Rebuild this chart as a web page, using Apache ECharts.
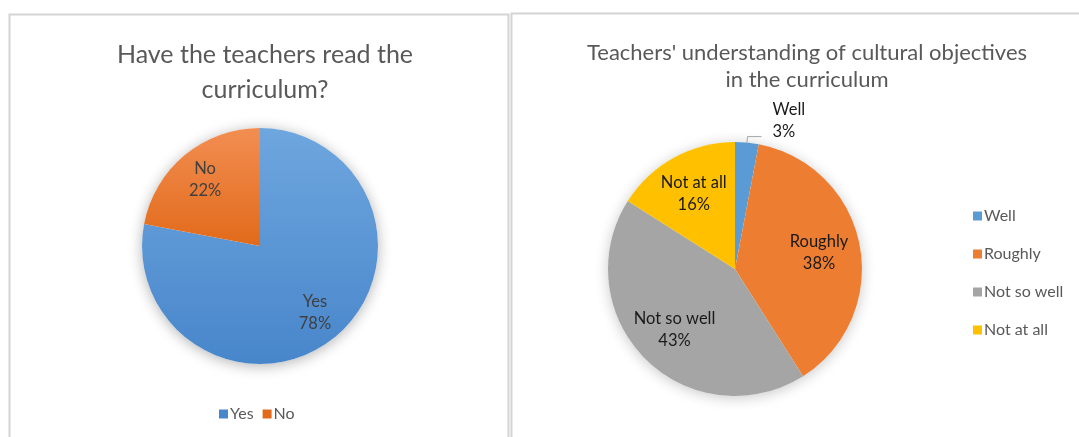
<!DOCTYPE html>
<html>
<head>
<meta charset="utf-8">
<script src="https://cdn.jsdelivr.net/npm/echarts@6/dist/echarts.min.js"></script>
<style>
  html, body { margin: 0; padding: 0; background: #ffffff; }
  #chart { width: 1079px; height: 437px; }
</style>
</head>
<body>
<div id="chart"></div>
<script>
// Survey results: have teachers read the curriculum
const readCategories = ['Yes', 'No'];
const readShares = [78, 22];

// Survey results: understanding of cultural objectives
const understandingCategories = ['Well', 'Roughly', 'Not so well', 'Not at all'];
const understandingShares = [3, 38, 43, 16];

const readColors = [
  ['#6ea6de', '#4886cb'],
  ['#f28e52', '#e26a1a']
];
const understandingColors = ['#5b9bd5', '#ed7d31', '#a5a5a5', '#ffc000'];

const FONT = 'Lato, "Open Sans", sans-serif';
const SMALL_SLICE = 5; // slices below this share get an outside label

const chart = echarts.init(document.getElementById('chart'), null, { renderer: 'canvas' });

function sum(arr) { return arr.reduce((a, b) => a + b, 0); }

const leftCenter = [260, 246];
const leftRadius = 118;
const rightCenter = [735, 269];
const rightRadius = 127;

// Shared label text formatting: name on first line, percent below
const labelFormatter = p => p.name + '\n' + p.value + '%';

const option = {
  animation: false,
  backgroundColor: '#ffffff',
  title: [
    {
      text: 'Have the teachers read the\ncurriculum?',
      left: 260, top: 32, textAlign: 'center',
      textStyle: { fontFamily: FONT, fontSize: 25, fontWeight: 'normal', color: '#595959', lineHeight: 35 }
    },
    {
      text: "Teachers' understanding of cultural objectives\nin the curriculum",
      left: 802, top: 34, textAlign: 'center',
      textStyle: { fontFamily: FONT, fontSize: 22, fontWeight: 'normal', color: '#595959', lineHeight: 27 }
    }
  ],
  legend: [
    {
      data: readCategories.map((n, i) => ({ name: n, itemStyle: { color: readColors[i][1] } })),
      left: 214, top: 401, orient: 'horizontal',
      icon: 'rect', itemWidth: 9, itemHeight: 9, itemGap: 9,
      textStyle: { fontFamily: FONT, fontSize: 16, color: '#595959', padding: [0, 0, 0, -3] },
      selectedMode: false
    },
    {
      data: understandingCategories,
      left: 968, top: 203, orient: 'vertical',
      icon: 'rect', itemWidth: 9, itemHeight: 9, itemGap: 22,
      textStyle: { fontFamily: FONT, fontSize: 16, color: '#595959', padding: [0, 0, 0, -3] },
      selectedMode: false
    }
  ],
  graphic: [
    {
      type: 'rect', silent: true, z: -10,
      shape: { x: 9.5, y: 14.5, width: 499, height: 440 },
      style: { fill: '#ffffff', stroke: '#d4d4d4', lineWidth: 2 }
    },
    {
      type: 'rect', silent: true, z: -10,
      shape: { x: 511.5, y: 13.5, width: 600, height: 440 },
      style: { fill: '#ffffff', stroke: '#d4d4d4', lineWidth: 2 }
    }
  ],
  series: [
    // soft drop shadow under the left pie
    {
      type: 'pie', name: 'readBase', silent: true, z: 1,
      center: leftCenter, radius: leftRadius,
      label: { show: false }, labelLine: { show: false },
      itemStyle: { color: '#ffffff', shadowBlur: 14, shadowOffsetY: 2, shadowColor: 'rgba(0,0,0,0.3)' },
      data: [{ name: '__readTotal', value: sum(readShares) }]
    },
    {
      type: 'pie', name: 'Read', silent: true, z: 2,
      center: leftCenter, radius: leftRadius,
      startAngle: 90, clockwise: true,
      label: { show: false }, labelLine: { show: false },
      data: readCategories.map((n, i) => ({
        name: n, value: readShares[i],
        itemStyle: {
          color: new echarts.graphic.LinearGradient(0, 0, 0, 1, [
            { offset: 0, color: readColors[i][0] },
            { offset: 1, color: readColors[i][1] }
          ])
        }
      }))
    },
    // label carrier for the left pie (places the texts further out)
    {
      type: 'pie', name: 'ReadLabels', silent: true, z: 3,
      center: leftCenter, radius: [leftRadius * 0.41, leftRadius],
      startAngle: 90, clockwise: true,
      itemStyle: { color: 'rgba(0,0,0,0)' },
      label: {
        show: true, position: 'inside', formatter: labelFormatter,
        fontFamily: FONT, fontSize: 16.5, color: '#404040', lineHeight: 22
      },
      data: readCategories.map((n, i) => ({ name: n, value: readShares[i] }))
    },
    // soft drop shadow under the right pie
    {
      type: 'pie', name: 'understandingBase', silent: true, z: 1,
      center: rightCenter, radius: rightRadius,
      label: { show: false }, labelLine: { show: false },
      itemStyle: { color: '#ffffff', shadowBlur: 14, shadowOffsetY: 2, shadowColor: 'rgba(0,0,0,0.22)' },
      data: [{ name: '__understandingTotal', value: sum(understandingShares) }]
    },
    {
      type: 'pie', name: 'Understanding', silent: true, z: 2,
      center: rightCenter, radius: rightRadius,
      startAngle: 90, clockwise: true,
      label: { show: false }, labelLine: { show: false },
      data: understandingCategories.map((n, i) => ({
        name: n, value: understandingShares[i],
        itemStyle: { color: understandingColors[i] }
      }))
    },
    {
      type: 'pie', name: 'UnderstandingLabels', silent: true, z: 3,
      center: rightCenter, radius: [rightRadius * 0.3, rightRadius],
      startAngle: 90, clockwise: true,
      itemStyle: { color: 'rgba(0,0,0,0)' },
      label: {
        show: true, position: 'inside', formatter: labelFormatter,
        fontFamily: FONT, fontSize: 16.5, color: '#1a1a1a', lineHeight: 22
      },
      labelLine: { show: false },
      // lift the outside label of a thin slice above its leader line
      labelLayout: p => (understandingShares[p.dataIndex] < SMALL_SLICE ? { dx: 6, dy: -16 } : {}),
      data: understandingCategories.map((n, i) => {
        const item = { name: n, value: understandingShares[i] };
        if (understandingShares[i] < SMALL_SLICE) {
          item.label = { position: 'outside' };
          item.labelLine = { show: true, length: 6, length2: 14, lineStyle: { color: '#a6a6a6', width: 1 } };
        }
        return item;
      })
    }
  ]
};

chart.setOption(option);
</script>
</body>
</html>
